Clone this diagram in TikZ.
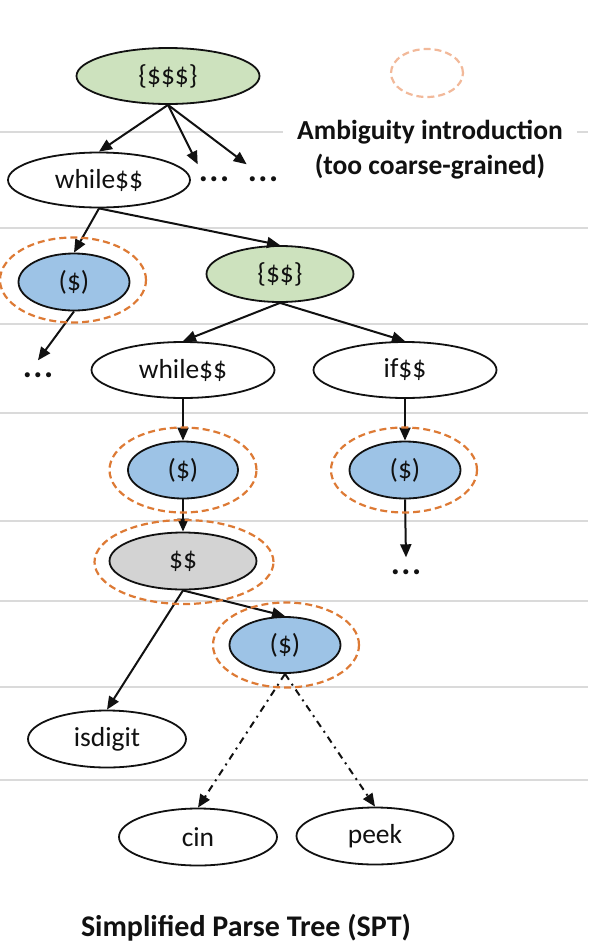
\documentclass[tikz,border=0pt]{standalone}
\usepackage{fontspec}
\setmainfont{Carlito}
\usepackage{tikz}
\usetikzlibrary{shapes.geometric, arrows.meta}
\definecolor{leafgreen}{HTML}{CDE2BE}
\definecolor{paleblue}{HTML}{9DC3E6}
\definecolor{midgray}{HTML}{D3D3D3}
\definecolor{ringorange}{HTML}{DD7A35}
\definecolor{ringpale}{HTML}{F2B99A}
\definecolor{rulegray}{HTML}{DADADA}
\definecolor{inkblack}{HTML}{111111}
\tikzset{
  tnode/.style={ellipse, draw=inkblack, line width=1.8pt, fill=white, text=inkblack,
    font=\fontsize{27.5}{33}\selectfont, inner sep=0pt, minimum width=183pt, minimum height=56pt},
  tnode/grp/.style={tnode, fill=leafgreen, minimum width=147pt},
  tnode/par/.style={tnode, fill=paleblue, minimum width=111pt, minimum height=57pt},
  tnode/seq/.style={tnode, fill=midgray, minimum width=147pt, minimum height=57pt},
  tnode/leaf/.style={tnode, minimum width=158pt, minimum height=57pt},
  ring/.style={ellipse, draw=ringorange, line width=2.2pt, dash pattern=on 7pt off 4pt,
    inner sep=0pt, minimum width=146pt, minimum height=85pt},
  more/.style={font=\bfseries\fontsize{34}{34}\selectfont, text=inkblack, inner xsep=1pt, inner ysep=12pt},
  arr/.style={-{Triangle[length=13pt,width=11pt]}, draw=inkblack, line width=2pt},
  dda/.style={arr, dash pattern=on 7pt off 5pt on 2pt off 5pt},
  rule/.style={draw=rulegray, line width=1.2pt},
  captxt/.style={font=\bfseries\fontsize{27.5}{35}\selectfont, text=inkblack, align=center},
}
\newcommand{\moredots}{.\kern1.5pt.\kern1.5pt.}
\begin{document}
\begin{tikzpicture}[x=1pt, y=-1pt]
  \useasboundingbox (0,0) rectangle (590,951);
  % level rules
  \foreach \ry in {132,228,324,413,521,601,687,780}
    \draw[rule] (0,\ry) -- (588,\ry);

  % tree
  \node[tnode/grp, minimum width=183pt] (root) at (168,76) {\{\$\$\$\}};
  \node[tnode, minimum width=182pt, minimum height=55pt] (whileA) at (99,180) {while\$\$};
  \node[more] (dotsA) at (214,179) {\moredots};
  \node[more] (dotsB) at (263,179) {\moredots};
  \node[tnode/par] (parA) at (74,282) {(\$)};
  \node[tnode/grp] (blk) at (280,274) {\{\$\$\}};
  \node[more] (dotsC) at (38,375) {\moredots};
  \node[tnode] (whileB) at (183,370) {while\$\$};
  \node[tnode] (ifB) at (405,370) {if\$\$};
  \node[tnode/par, minimum width=110pt] (parB) at (183,470) {(\$)};
  \node[tnode/par] (parC) at (405,470) {(\$)};
  \node[more] (dotsD) at (406,572) {\moredots};
  \node[tnode/seq] (seq) at (183,561) {\$\$};
  \node[tnode/par, minimum height=56pt] (parD) at (285,645) {(\$)};
  \node[tnode/leaf] (isdig) at (107,739) {isdigit};
  \node[tnode/leaf] (cin) at (198,837) {cin};
  \node[tnode/leaf, minimum width=157pt] (peek) at (375,836) {peek};

  % edges
  \draw[arr] (root.south) -- (whileA.north);
  \draw[arr] (root.south) -- (dotsA.north west);
  \draw[arr] (root.south) -- (dotsB.north west);
  \draw[arr] (whileA.south) -- (parA.north);
  \draw[arr] (whileA.south) -- (blk.north);
  \draw[arr] (parA.south) -- (dotsC.north);
  \draw[arr] (blk.south) -- (whileB.north);
  \draw[arr] (blk.south) -- (ifB.north);
  \draw[arr] (whileB.south) -- (parB.north);
  \draw[arr] (ifB.south) -- (parC.north);
  \draw[arr] (parC.south) -- (dotsD.north);
  \draw[arr] (parB.south) -- (seq.north);
  \draw[arr] (seq.south) -- (parD.north);
  \draw[arr] (seq.south) -- (isdig.north);
  \draw[dda] (parD.south) -- (cin.north);
  \draw[dda] (parD.south) -- (peek.north);

  % ambiguity rings
  \node[ring] (ringA) at (73,280) {};
  \node[ring, minimum width=147pt] (ringB) at (183,470) {};
  \node[ring] (ringC) at (404,470) {};
  \node[ring, minimum width=179pt, minimum height=84pt] (ringD) at (184,562) {};
  \node[ring] (ringE) at (286,645) {};

  % legend
  \node[ring, draw=ringpale, minimum width=72pt, minimum height=48pt] (key) at (427,73) {};
  \node[captxt, fill=white, inner xsep=14pt] (keytxt) at (430,150) {Ambiguity introduction\\(too coarse-grained)};
  \node[captxt, font=\bfseries\fontsize{30}{36}\selectfont] (title) at (246,928) {Simplified Parse Tree (SPT)};
\end{tikzpicture}
\end{document}
